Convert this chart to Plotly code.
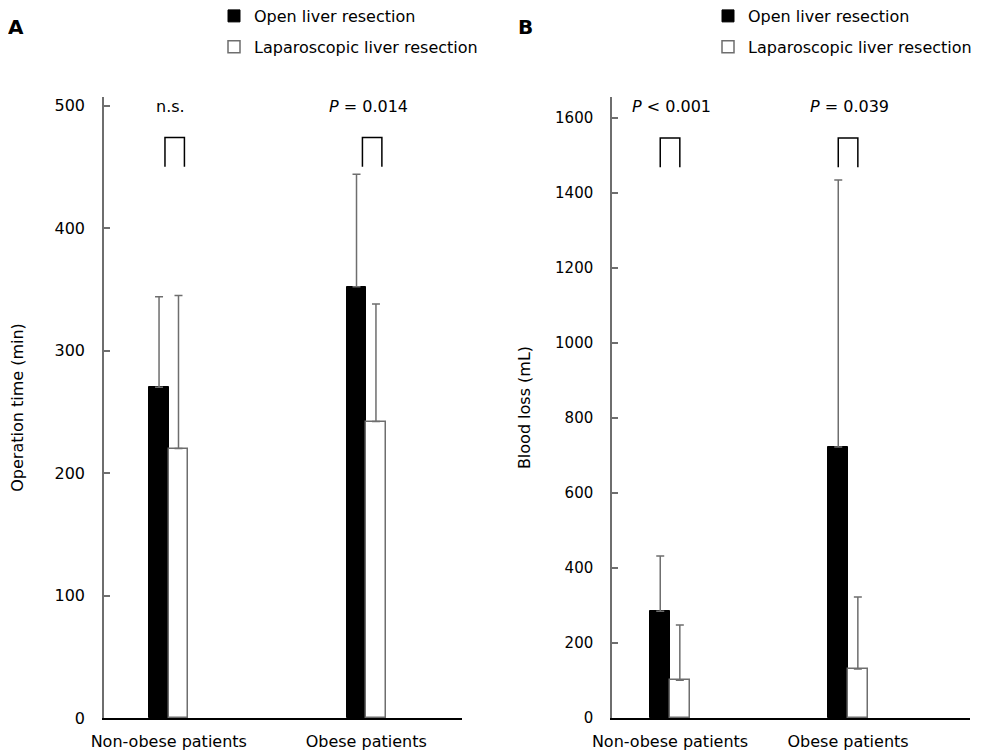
import plotly.graph_objects as go

categories = ["Non-obese patients", "Obese patients"]
series_names = ["Open liver resection", "Laparoscopic liver resection"]

# Panel A: operation time (min)
op_open = [270, 352]
op_open_sd = [74, 92]
op_lap = [220, 242]
op_lap_sd = [125, 96]
op_pvals = ["n.s.", "<i>P</i> = 0.014"]

# Panel B: blood loss (mL)
bl_open = [285, 723]
bl_open_sd = [147, 712]
bl_lap = [101, 131]
bl_lap_sd = [147, 192]
bl_pvals = ["<i>P</i> < 0.001", "<i>P</i> = 0.039"]

FONT = "DejaVu Sans"
GRAY = "#6e6e6e"
W, H = 987, 756
OFF = 8  # page body margin offset


def px(x):
    return (x - OFF) / W


def py(y):
    return 1 - (y - OFF) / H


fig = go.Figure()

panels = [
    dict(xa="x", ya="y", xname="xaxis", yname="yaxis", open=op_open, open_sd=op_open_sd,
         lap=op_lap, lap_sd=op_lap_sd, pv=op_pvals, legend="legend", bw=0.0985,
         yrange=[0, 507], ytv=[0, 100, 200, 300, 400, 500], title="Operation time (min)",
         standoff=27, ytick=16,
         xdom=[px(104), px(462)], xr=[-0.328, 1.485], br_lo=450, br_hi=474, br_off=0.03),
    dict(xa="x2", ya="y2", xname="xaxis2", yname="yaxis2", open=bl_open, open_sd=bl_open_sd,
         lap=bl_lap, lap_sd=bl_lap_sd, pv=bl_pvals, legend="legend2", bw=0.11,
         yrange=[0, 1656], ytv=list(range(0, 1601, 200)), title="Blood loss (mL)",
         standoff=20, ytick=15,
         xdom=[px(612), px(970)], xr=[-0.326, 1.685], br_lo=1469, br_hi=1547, br_off=0.0),
]

xs = list(range(len(categories)))
ydom = [py(718), py(97)]

for i, p in enumerate(panels):
    w = p["bw"]
    fig.add_trace(go.Bar(
        x=xs, y=p["open"], width=w, offset=-w, xaxis=p["xa"], yaxis=p["ya"],
        name=series_names[0], legend=p["legend"], legendgroup="o%d" % i,
        marker=dict(color="black", line=dict(color="black", width=1)),
        error_y=dict(type="data", symmetric=False, array=p["open_sd"], arrayminus=[0] * len(xs),
                     color=GRAY, thickness=1.5, width=4),
    ))
    fig.add_trace(go.Bar(
        x=xs, y=p["lap"], width=w, offset=0, xaxis=p["xa"], yaxis=p["ya"],
        name=series_names[1], legend=p["legend"], legendgroup="l%d" % i,
        marker=dict(color="white", line=dict(color=GRAY, width=1.5)),
        error_y=dict(type="data", symmetric=False, array=p["lap_sd"], arrayminus=[0] * len(xs),
                     color=GRAY, thickness=1.5, width=4),
    ))
    fig.layout[p["xname"]] = dict(
        domain=p["xdom"], range=p["xr"], anchor=p["ya"], tickvals=xs, ticktext=categories,
        ticks="", showline=True, linecolor="black", linewidth=1.5, showgrid=False,
        zeroline=False, tickfont=dict(family=FONT, size=16, color="black"),
        ticklabelstandoff=8, fixedrange=True, automargin=False,
    )
    fig.layout[p["yname"]] = dict(
        domain=ydom, range=p["yrange"], anchor=p["xa"], tickvals=p["ytv"],
        ticks="inside", ticklen=6, tickcolor=GRAY, tickwidth=1.5, showline=True,
        linecolor=GRAY, linewidth=1.5, showgrid=False, zeroline=False,
        tickfont=dict(family=FONT, size=p["ytick"], color="black"), ticklabelstandoff=14,
        title=dict(text=p["title"], font=dict(family=FONT, size=16, color="black"),
                   standoff=p["standoff"]),
        fixedrange=True, automargin=False,
    )
    # significance brackets and p-value labels
    for j, x0 in enumerate(xs):
        xl = x0 - w / 2 + p["br_off"]
        xr = x0 + w / 2 + p["br_off"]
        fig.add_shape(type="path", xref=p["xa"], yref=p["ya"],
                      path="M %f %f L %f %f L %f %f L %f %f" % (xl, p["br_lo"], xl, p["br_hi"], xr, p["br_hi"], xr, p["br_lo"]),
                      line=dict(color="black", width=1.5))
        fig.add_annotation(x=x0 + 0.01, y=p["yrange"][1] * 0.985, xref=p["xa"], yref=p["ya"],
                           text=p["pv"][j], showarrow=False, yanchor="middle",
                           font=dict(family=FONT, size=16, color="black"))

fig.add_annotation(x=px(6), y=py(27), xref="paper", yref="paper", text="<b>A</b>",
                   showarrow=False, xanchor="left", yanchor="middle",
                   font=dict(family="DejaVu Sans", size=20, color="black"))
fig.add_annotation(x=px(516), y=py(27), xref="paper", yref="paper", text="<b>B</b>",
                   showarrow=False, xanchor="left", yanchor="middle",
                   font=dict(family="DejaVu Sans", size=20, color="black"))

leg_common = dict(yanchor="top", xanchor="left", bgcolor="rgba(0,0,0,0)", borderwidth=0,
                  font=dict(family=FONT, size=16, color="black"), traceorder="grouped",
                  tracegroupgap=7, itemclick=False, itemdoubleclick=False)
fig.update_layout(
    legend=dict(x=206/W, y=1 + 9/H, **leg_common),
    legend2=dict(x=700/W, y=1 + 9/H, **leg_common),
    width=W, height=H, margin=dict(l=0, r=0, t=0, b=0, autoexpand=False),
    paper_bgcolor="white", plot_bgcolor="white", bargap=0, showlegend=True,
)

fig.write_html("out.html")
